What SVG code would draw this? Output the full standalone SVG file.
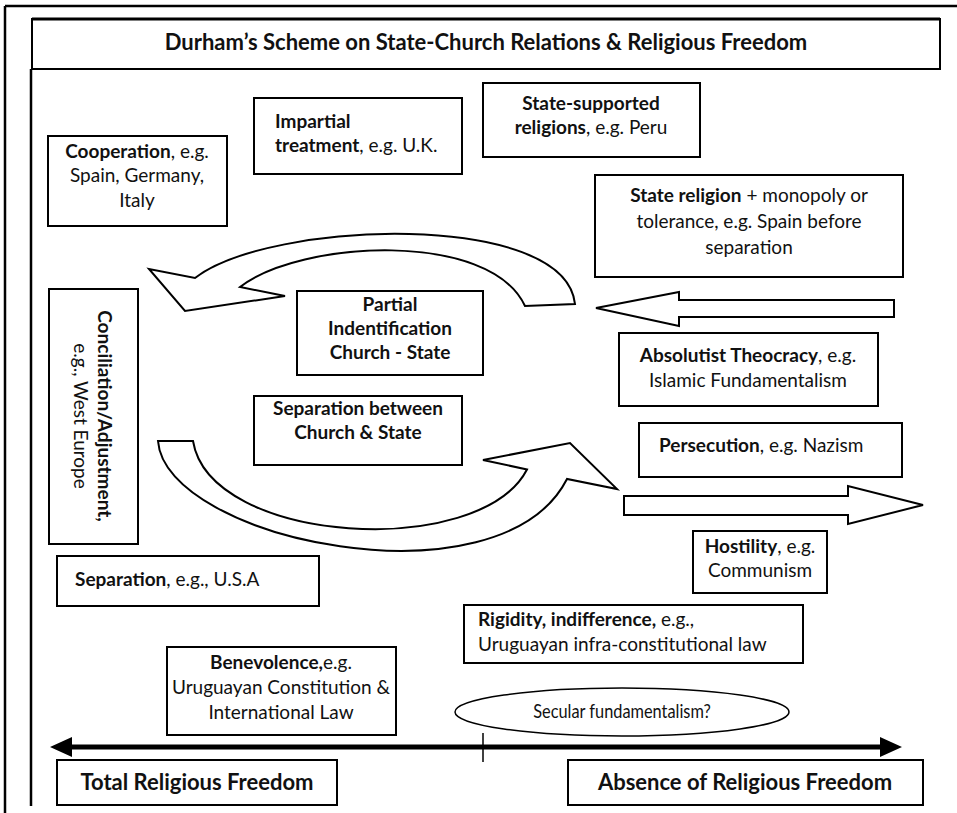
<svg xmlns="http://www.w3.org/2000/svg" width="957" height="813" viewBox="0 0 957 813">
<style>
text{font-family:Lato,"Liberation Sans",sans-serif;font-size:19px;fill:#111}
.b{font-weight:bold}
.c{text-anchor:middle}
.box{fill:#fff;stroke:#000;stroke-width:2}
.frame{stroke:#000;stroke-width:2.5;fill:none}
.arr{fill:#fff;stroke:#000;stroke-width:2;stroke-linejoin:miter}
.big{font-size:22px;font-weight:bold}
</style>
<rect width="957" height="813" fill="#fff"/>
<g id="frame">
<line class="frame" x1="5" y1="6" x2="957" y2="6"/>
<line class="frame" x1="5" y1="6" x2="5" y2="813"/>
<line class="frame" x1="31" y1="69" x2="31" y2="806"/>
</g>
<g id="title">
<rect class="box" x="32" y="19" width="908" height="50"/>
<line x1="32" y1="19" x2="940" y2="19" stroke="#000" stroke-width="3"/>
<text class="c big" x="486" y="50">Durham’s Scheme on State-Church Relations &amp; Religious Freedom</text>
</g>
<g id="connectors">
<path class="arr" d="M575,304 C565,210 270,220 195,278 L149,269 L185,311 L285,296 L240,287 C300,240 490,230 525,306 Z"/>
<path class="arr" d="M158,441 C165,540 500,610 567,479 L617,489 L570,443 L483,460 L527,469.5 C480,560 210,545 193,441 Z"/>
<path class="arr" d="M596,308 L679,292 L679,300 L894,300 L894,317 L679,317 L679,326 Z"/>
<path class="arr" d="M624,496 L848,496 L848,486 L923,505 L848,524 L848,515 L624,515 Z"/>
<line x1="68" y1="747" x2="884" y2="747" stroke="#000" stroke-width="5"/>
<path d="M50,747 L72,737 L72,757 Z M902,747 L880,737 L880,757 Z" fill="#000"/>
<line x1="483" y1="733" x2="483" y2="762" stroke="#000" stroke-width="1.5"/>
</g>
<g id="cooperation">
<rect class="box" x="48" y="136" width="179" height="90"/>
<text class="c" x="137" y="158"><tspan class="b">Cooperation</tspan>, e.g.</text>
<text class="c" x="137" y="182">Spain, Germany,</text>
<text class="c" x="137" y="207">Italy</text>
</g>
<g id="impartial">
<rect class="box" x="254" y="98" width="208" height="76"/>
<text x="275" y="128" class="b">Impartial</text>
<text x="275" y="152"><tspan class="b">treatment</tspan>, e.g. U.K.</text>
</g>
<g id="state-supported">
<rect class="box" x="483" y="83" width="217" height="74"/>
<text class="c" x="591" y="110" font-weight="bold">State-supported</text>
<text class="c" x="591" y="134"><tspan class="b">religions</tspan>, e.g. Peru</text>
</g>
<g id="state-religion">
<rect class="box" x="595" y="175" width="308" height="102"/>
<text class="c" x="749" y="202"><tspan class="b">State religion</tspan> + monopoly or</text>
<text class="c" x="749" y="228">tolerance, e.g. Spain before</text>
<text class="c" x="749" y="254">separation</text>
</g>
<g id="partial">
<rect class="box" x="297" y="291" width="186" height="84"/>
<text class="c b" x="390" y="311">Partial</text>
<text class="c b" x="390" y="335">Indentification</text>
<text class="c b" x="390" y="359">Church - State</text>
</g>
<g id="conciliation">
<rect class="box" x="49" y="289" width="89" height="255"/>
<text class="c b" transform="translate(98,416) rotate(90)">Conciliation/Adjustment,</text>
<text class="c" transform="translate(74,416) rotate(90)">e.g., West Europe</text>
</g>
<g id="absolutist">
<rect class="box" x="619" y="333" width="259" height="73"/>
<text class="c" x="748" y="362"><tspan class="b">Absolutist Theocracy</tspan>, e.g.</text>
<text class="c" x="748" y="387">Islamic Fundamentalism</text>
</g>
<g id="separation-between">
<rect class="box" x="254" y="396" width="208" height="69"/>
<text class="c b" x="358" y="415">Separation between</text>
<text class="c b" x="358" y="439">Church &amp; State</text>
</g>
<g id="persecution">
<rect class="box" x="639" y="423" width="263" height="54"/>
<text x="659" y="452"><tspan class="b">Persecution</tspan>, e.g. Nazism</text>
</g>
<g id="hostility">
<rect class="box" x="693" y="531" width="134" height="62"/>
<text class="c" x="760" y="553"><tspan class="b">Hostility</tspan>, e.g.</text>
<text class="c" x="760" y="577">Communism</text>
</g>
<g id="separation-usa">
<rect class="box" x="57" y="556" width="262" height="50"/>
<text x="75" y="586"><tspan class="b">Separation</tspan>, e.g., U.S.A</text>
</g>
<g id="rigidity">
<rect class="box" x="464" y="605" width="339" height="58"/>
<text x="478" y="626"><tspan class="b">Rigidity, indifference,</tspan> e.g.,</text>
<text x="478" y="651">Uruguayan infra-constitutional law</text>
</g>
<g id="benevolence">
<rect class="box" x="167" y="647" width="229" height="88"/>
<text class="c" x="281" y="669"><tspan class="b">Benevolence,</tspan>e.g.</text>
<text class="c" x="281" y="694">Uruguayan Constitution &amp;</text>
<text class="c" x="281" y="719">International Law</text>
</g>
<g id="secular">
<ellipse cx="622" cy="712" rx="167" ry="24" fill="#fff" stroke="#000" stroke-width="1.5"/>
<text class="c" transform="translate(622,718) scale(0.86,1.05)" font-size="18">Secular fundamentalism?</text>
</g>
<g id="total">
<rect class="box" x="57" y="760" width="280" height="45"/>
<text class="c big" x="197" y="790">Total Religious Freedom</text>
</g>
<g id="absence">
<rect class="box" x="568" y="760" width="355" height="45"/>
<text class="c big" x="745" y="790">Absence of Religious Freedom</text>
</g>
</svg>
